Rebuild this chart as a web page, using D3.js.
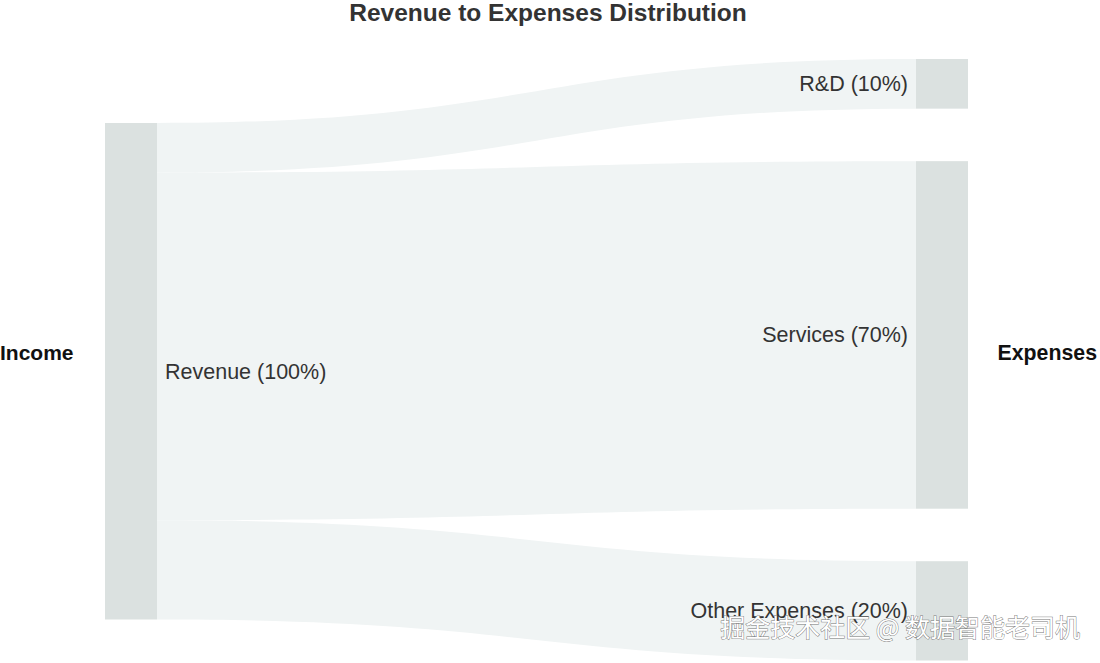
<!DOCTYPE html>
<html>
<head>
<meta charset="utf-8">
<script src="https://cdn.jsdelivr.net/npm/d3@7"></script>
<style>
  html, body { margin: 0; padding: 0; background: #fff; }
  svg { display: block; font-family: "Liberation Sans", Arial, sans-serif; }
</style>
</head>
<body>
<svg id="chart" width="1100" height="663"></svg>
<script>
// ---- data ----
const sourceNodes = ["Revenue"];
const sourceValues = [100];
const targetNodes = ["R&D", "Services", "Other Expenses"];
const targetValues = [10, 70, 20];
const nodeLabels = ["Revenue (100%)", "R&D (10%)", "Services (70%)", "Other Expenses (20%)"];
const columnLabels = ["Income", "Expenses"];
const title = "Revenue to Expenses Distribution";
const watermark = "掘金技术社区 @ 数据智能老司机";

// ---- layout ----
const W = 1100, H = 663;
const svg = d3.select("#chart");
const nodeW = 52;
const xScale = d3.scalePoint().domain(["src", "tgt"]).range([105, 916]);
const hScale = d3.scaleLinear().domain([0, 100]).range([0, 496.5]);
const gap = 52.5;
const srcTop = 123, tgtTop = 59;
const linkColor = "#f0f4f4", nodeColor = "#dbe1e0", textColor = "#333";

// target node positions
let acc = tgtTop;
const tgt = targetNodes.map((name, i) => {
  const h = hScale(targetValues[i]);
  const o = { name, y0: acc, y1: acc + h, value: targetValues[i] };
  acc += h + gap;
  return o;
});
// source node
const src = { name: sourceNodes[0], y0: srcTop, y1: srcTop + hScale(sourceValues[0]) };

// links
let sacc = src.y0;
const links = tgt.map(t => {
  const h = hScale(t.value);
  const l = { sy0: sacc, sy1: sacc + h, ty0: t.y0, ty1: t.y1 };
  sacc += h;
  return l;
});

const x0 = xScale("src") + nodeW, x1 = xScale("tgt");
const xm = (x0 + x1) / 2;
function bandPath(l) {
  const p = d3.path();
  p.moveTo(x0, l.sy0);
  p.bezierCurveTo(xm, l.sy0, xm, l.ty0, x1, l.ty0);
  p.lineTo(x1, l.ty1);
  p.bezierCurveTo(xm, l.ty1, xm, l.sy1, x0, l.sy1);
  p.closePath();
  return p.toString();
}

svg.append("g").selectAll("path").data(links).join("path")
  .attr("d", bandPath)
  .attr("fill", linkColor);

// nodes
svg.append("rect")
  .attr("x", xScale("src")).attr("y", src.y0)
  .attr("width", nodeW).attr("height", src.y1 - src.y0)
  .attr("fill", nodeColor);
svg.append("g").selectAll("rect").data(tgt).join("rect")
  .attr("x", xScale("tgt")).attr("y", d => d.y0)
  .attr("width", nodeW).attr("height", d => d.y1 - d.y0)
  .attr("fill", nodeColor);

// node labels
svg.append("text")
  .attr("x", xScale("src") + nodeW + 8).attr("y", (src.y0 + src.y1) / 2)
  .attr("dy", "0.35em").attr("font-size", 21.5).attr("fill", textColor)
  .text(nodeLabels[0]);
svg.append("g").selectAll("text").data(tgt).join("text")
  .attr("x", xScale("tgt") - 8).attr("y", d => (d.y0 + d.y1) / 2 - 0.5)
  .attr("dy", "0.35em").attr("text-anchor", "end")
  .attr("font-size", 21.5).attr("fill", textColor)
  .text((d, i) => nodeLabels[i + 1]);

// column labels
svg.append("text").attr("x", 0).attr("y", 353).attr("dy", "0.35em")
  .attr("font-size", 21).attr("font-weight", "bold").attr("fill", "#111")
  .text(columnLabels[0]);
svg.append("text").attr("x", 1097).attr("y", 353).attr("dy", "0.35em")
  .attr("text-anchor", "end")
  .attr("font-size", 21.3).attr("font-weight", "bold").attr("fill", "#111")
  .text(columnLabels[1]);

// title
svg.append("text").attr("x", 548).attr("y", 12.5).attr("dy", "0.35em")
  .attr("text-anchor", "middle")
  .attr("font-size", 24.5).attr("font-weight", "bold").attr("fill", "#333")
  .text(title);

// watermark
svg.append("text").attr("x", 1080).attr("y", 628).attr("dy", "0.35em")
  .attr("text-anchor", "end")
  .attr("font-family", "'Noto Sans CJK SC', sans-serif")
  .attr("font-size", 25)
  .attr("fill", "#fff").attr("stroke", "#777").attr("stroke-width", 0.9)
  .attr("paint-order", "stroke")
  .text(watermark);
</script>
</body>
</html>
